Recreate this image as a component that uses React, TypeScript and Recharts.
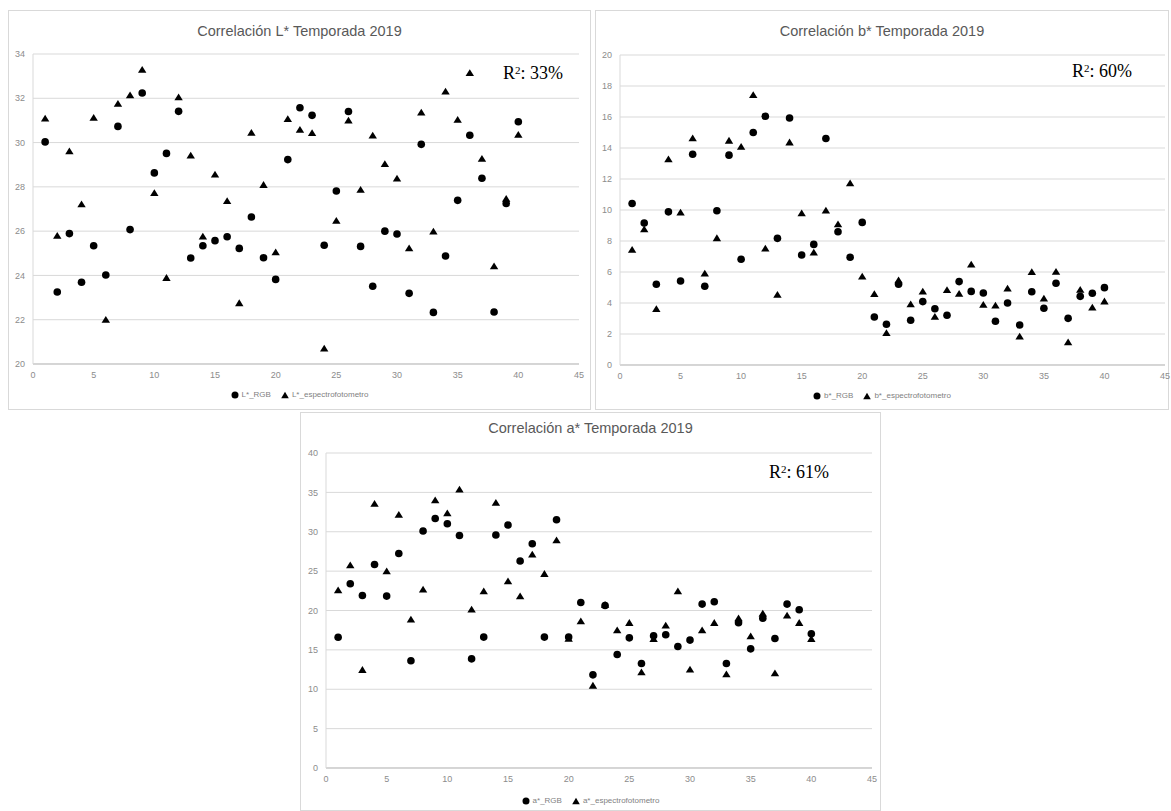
import React from 'react';
import { ScatterChart, Scatter, XAxis, YAxis, CartesianGrid } from 'recharts';

// Sample numbers (x axis)
const muestras = [
  1, 2, 3, 4, 5, 6, 7, 8, 9, 10, 11, 12, 13, 14, 15, 16, 17, 18, 19, 20,
  21, 22, 23, 24, 25, 26, 27, 28, 29, 30, 31, 32, 33, 34, 35, 36, 37, 38, 39, 40,
];

// L* values
const lRgb = [
  30.03, 23.25, 25.89, 23.69, 25.34, 24.02, 30.73, 26.07, 32.24, 28.63,
  29.51, 31.41, 24.79, 25.34, 25.57, 25.75, 25.22, 26.64, 24.8, 23.82,
  29.23, 31.57, 31.23, 25.36, 27.81, 31.4, 25.31, 23.51, 26.0, 25.87,
  23.19, 29.92, 22.33, 24.88, 27.39, 30.33, 28.39, 22.35, 27.25, 30.94,
];
const lEspectro = [
  31.08, 25.78, 29.6, 27.2, 31.11, 21.99, 31.74, 32.13, 33.28, 27.71,
  23.88, 32.04, 29.41, 25.75, 28.55, 27.35, 22.74, 30.43, 28.08, 25.04,
  31.05, 30.57, 30.42, 20.69, 26.46, 30.99, 27.86, 30.31, 29.02, 28.37,
  25.22, 31.35, 25.97, 32.3, 31.02, 33.13, 29.26, 24.4, 27.45, 30.34,
];

// b* values
const bRgb = [
  10.42, 9.16, 5.21, 9.88, 5.42, 13.6, 5.08, 9.95, 13.54, 6.82,
  15.0, 16.05, 8.17, 15.94, 7.1, 7.78, 14.61, 8.6, 6.95, 9.2,
  3.1, 2.63, 5.21, 2.89, 4.09, 3.63, 3.21, 5.38, 4.75, 4.65,
  2.82, 4.0, 2.58, 4.73, 3.66, 5.27, 3.01, 4.43, 4.63, 4.99,
];
const bEspectro = [
  7.42, 8.75, 3.6, 13.26, 9.82, 14.61, 5.89, 8.17, 14.46, 14.07,
  17.4, 7.5, 4.52, 14.35, 9.78, 7.24, 9.95, 9.07, 11.71, 5.7,
  4.56, 2.05, 5.45, 3.9, 4.73, 3.1, 4.82, 4.58, 6.47, 3.87,
  3.83, 4.92, 1.83, 5.98, 4.28, 6.0, 1.45, 4.84, 3.7, 4.09,
];

// a* values
const aRgb = [
  16.6, 23.39, 21.91, 25.85, 21.83, 27.24, 13.61, 30.09, 31.69, 31.02,
  29.53, 13.86, 16.62, 29.58, 30.85, 26.28, 28.48, 16.62, 31.53, 16.62,
  21.02, 11.83, 20.64, 14.41, 16.53, 13.27, 16.78, 16.93, 15.43, 16.24,
  20.81, 21.11, 13.27, 18.45, 15.13, 19.03, 16.44, 20.81, 20.09, 17.04,
];
const aEspectro = [
  22.54, 25.72, 12.43, 33.52, 24.96, 32.12, 18.82, 22.63, 33.98, 32.33,
  35.34, 20.09, 22.42, 33.65, 23.69, 21.78, 27.08, 24.62, 28.9, 16.4,
  18.6, 10.43, 20.7, 17.46, 18.4, 12.12, 16.37, 18.06, 22.42, 12.47,
  17.46, 18.4, 11.87, 19.0, 16.7, 19.58, 12.0, 19.33, 18.4, 16.37,
];

const xTicks = [0, 5, 10, 15, 20, 25, 30, 35, 40, 45];
const lTicks = [20, 22, 24, 26, 28, 30, 32, 34];
const bTicks = [0, 2, 4, 6, 8, 10, 12, 14, 16, 18, 20];
const aTicks = [0, 5, 10, 15, 20, 25, 30, 35, 40];

const toPoints = (ys: number[]) => ys.map((y, i) => ({ x: muestras[i], y }));

const CircleMark = (p: any) => <circle cx={p.cx} cy={p.cy} r={3.8} fill="#000" />;
const TriangleMark = (p: any) => (
  <path
    d={`M${p.cx},${p.cy - 4} L${p.cx + 4.2},${p.cy + 2.8} L${p.cx - 4.2},${p.cy + 2.8} Z`}
    fill="#000"
  />
);

const SANS = '"Liberation Sans", Arial, sans-serif';
const tickStyle = { fontSize: 9, fill: '#8c8c8c', fontFamily: SANS };

type PanelProps = {
  left: number;
  top: number;
  width: number;
  height: number;
  title: string;
  yDomain: [number, number];
  yTicks: number[];
  rgb: number[];
  esp: number[];
  rgbName: string;
  espName: string;
  margin: { top: number; right: number; bottom: number; left: number };
  r2: string;
  r2Left: number;
  r2Top: number;
  titleTop: number;
  legendTop: number;
};

function Panel(props: PanelProps) {
  const {
    left, top, width, height, title, yDomain, yTicks, rgb, esp,
    rgbName, espName, margin, r2, r2Left, r2Top, titleTop, legendTop,
  } = props;
  return (
    <div style={{ position: 'absolute', left, top, width, height, background: '#fff' }}>
      <div
        style={{
          position: 'absolute', left: 0, top: 0, width, height,
          boxSizing: 'border-box', border: '1px solid #d9d9d9', pointerEvents: 'none',
        }}
      />
      <div
        style={{
          position: 'absolute', left: 0, top: titleTop, width, textAlign: 'center',
          fontFamily: SANS, fontSize: 14.5, color: '#595959', lineHeight: '18px',
        }}
      >
        {title}
      </div>
      <ScatterChart width={width} height={height} margin={margin}>
        <CartesianGrid vertical={false} stroke="#d9d9d9" />
        <XAxis
          type="number"
          dataKey="x"
          domain={[0, 45]}
          ticks={xTicks}
          tickLine={false}
          axisLine={{ stroke: '#bfbfbf' }}
          tick={tickStyle}
          height={20}
          interval={0}
        />
        <YAxis
          type="number"
          dataKey="y"
          domain={yDomain}
          ticks={yTicks}
          tickLine={false}
          axisLine={{ stroke: '#d9d9d9' }}
          tick={tickStyle}
          width={25}
          interval={0}
        />
        <Scatter name={rgbName} data={toPoints(rgb)} shape={CircleMark} isAnimationActive={false} />
        <Scatter name={espName} data={toPoints(esp)} shape={TriangleMark} isAnimationActive={false} />
      </ScatterChart>
      <div
        style={{
          position: 'absolute', left: r2Left, top: r2Top,
          fontFamily: '"Liberation Serif", "Times New Roman", serif',
          fontSize: 18, color: '#000', lineHeight: '20px', whiteSpace: 'nowrap',
        }}
      >
        R<sup style={{ fontSize: 11, verticalAlign: 'top', position: 'relative', top: -3 }}>2</sup>: {r2}
      </div>
      <div
        style={{
          position: 'absolute', left: 0, top: legendTop, width, display: 'flex',
          justifyContent: 'center', alignItems: 'center', gap: 10,
          fontFamily: SANS, fontSize: 8, color: '#7f7f7f', lineHeight: '10px',
        }}
      >
        <span style={{ display: 'flex', alignItems: 'center', gap: 3 }}>
          <svg width={8} height={8}><circle cx={4} cy={4} r={3.5} fill="#000" /></svg>
          {rgbName}
        </span>
        <span style={{ display: 'flex', alignItems: 'center', gap: 3 }}>
          <svg width={8} height={8}><path d="M4,0.8 L7.8,7.2 L0.2,7.2 Z" fill="#000" /></svg>
          {espName}
        </span>
      </div>
    </div>
  );
}

export default function App() {
  return (
    <div style={{ position: 'absolute', left: 0, top: 0, width: 1171, height: 811, background: '#fff' }}>
      <style>{'.recharts-surface{overflow:visible}'}</style>
      <Panel
        left={8}
        top={10}
        width={583}
        height={400}
        title="Correlación L* Temporada 2019"
        yDomain={[20, 34]}
        yTicks={lTicks}
        rgb={lRgb}
        esp={lEspectro}
        rgbName="L*_RGB"
        espName="L*_espectrofotometro"
        margin={{ top: 44, right: 12, bottom: 26, left: 0 }}
        r2="33%"
        r2Left={495}
        r2Top={53}
        titleTop={12}
        legendTop={380}
      />
      <Panel
        left={595}
        top={10}
        width={574}
        height={400}
        title="Correlación b* Temporada 2019"
        yDomain={[0, 20]}
        yTicks={bTicks}
        rgb={bRgb}
        esp={bEspectro}
        rgbName="b*_RGB"
        espName="b*_espectrofotometro"
        margin={{ top: 45, right: 4, bottom: 25, left: 0 }}
        r2="60%"
        r2Left={477}
        r2Top={51}
        titleTop={12}
        legendTop={381}
      />
      <Panel
        left={300}
        top={412}
        width={581}
        height={399}
        title="Correlación a* Temporada 2019"
        yDomain={[0, 40]}
        yTicks={aTicks}
        rgb={aRgb}
        esp={aEspectro}
        rgbName="a*_RGB"
        espName="a*_espectrofotometro"
        margin={{ top: 41, right: 9, bottom: 23, left: 1 }}
        r2="61%"
        r2Left={469}
        r2Top={50}
        titleTop={7}
        legendTop={384}
      />
    </div>
  );
}
